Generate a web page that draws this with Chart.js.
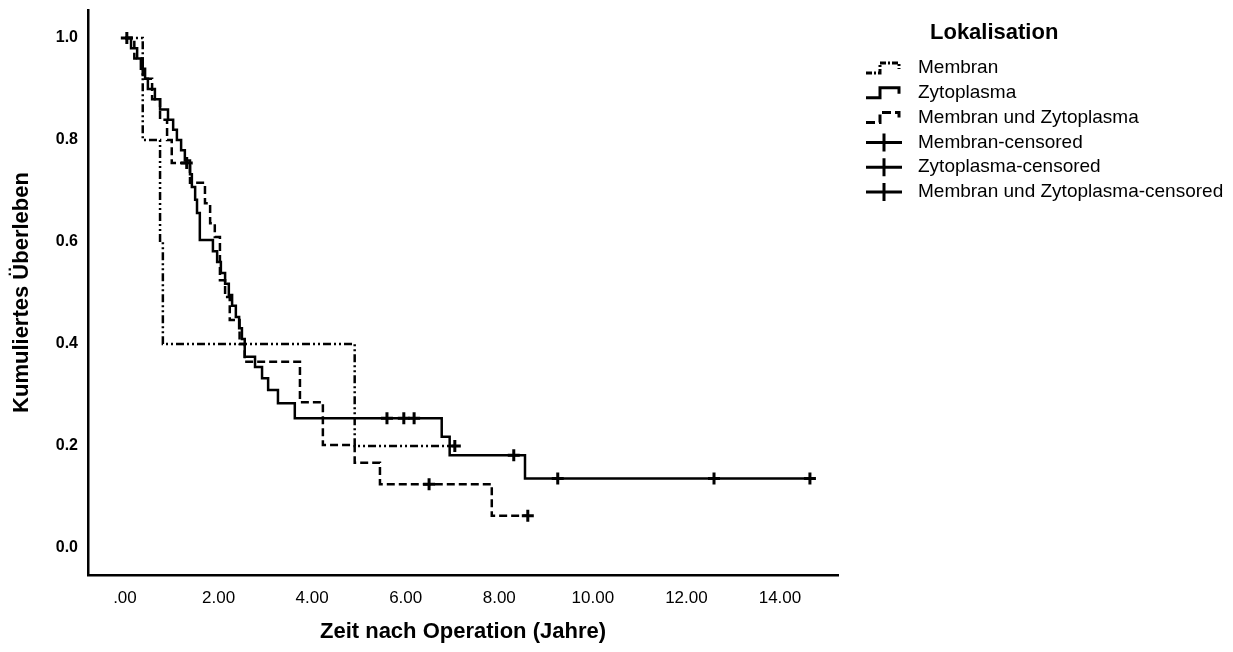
<!DOCTYPE html>
<html><head><meta charset="utf-8">
<script src="https://cdn.jsdelivr.net/npm/chart.js@4/dist/chart.umd.min.js"></script>
<style>html,body{margin:0;padding:0;background:#fff}#wrap{width:1233px;height:652px;position:relative}</style>
</head><body><div id="wrap"><canvas id="c" width="1233" height="652"></canvas></div>
<script>
// ---- data ----
const xTickValues = [0, 2, 4, 6, 8, 10, 12, 14];
const yTickValues = [0, 0.2, 0.4, 0.6, 0.8, 1.0];
const legendTitle = 'Lokalisation';
const seriesNames = ['Membran', 'Zytoplasma', 'Membran und Zytoplasma'];

const membranTimes = [0, 0.38, 0.75, 0.81, 4.91, 7.05];
const membranSurv  = [1, 0.8, 0.6, 0.4, 0.2, 0.2];
const membranCensTimes = [7.05];
const membranCensSurv  = [0.2];

const zytoTimes = [0, 0.13, 0.26, 0.34, 0.43, 0.49, 0.64, 0.75, 0.92, 1.03, 1.11, 1.20, 1.28, 1.39, 1.43, 1.50, 1.54, 1.60, 1.88, 1.97, 2.05, 2.14, 2.22, 2.29, 2.37, 2.44, 2.50, 2.56, 2.78, 2.93, 3.06, 3.27, 3.63, 6.77, 6.94, 8.55, 14.64];
const zytoSurv  = [1, 0.98, 0.96, 0.94, 0.92, 0.90, 0.88, 0.86, 0.84, 0.82, 0.80, 0.78, 0.76, 0.733, 0.708, 0.683, 0.657, 0.604, 0.582, 0.561, 0.539, 0.518, 0.496, 0.475, 0.453, 0.431, 0.410, 0.375, 0.355, 0.333, 0.310, 0.284, 0.2545, 0.218, 0.182, 0.136, 0.136];
const zytoCensTimes = [0.04, 5.60, 5.96, 6.18, 8.31, 9.25, 12.59, 14.64];
const zytoCensSurv  = [1.0, 0.2545, 0.2545, 0.2545, 0.182, 0.136, 0.136, 0.136];

const mzTimes = [0, 0.20, 0.38, 0.58, 0.75, 0.90, 1.00, 1.39, 1.71, 1.82, 1.92, 2.03, 2.14, 2.24, 2.45, 2.56, 3.74, 4.23, 4.91, 5.45, 7.84, 8.61];
const mzSurv  = [1, 0.96, 0.92, 0.88, 0.84, 0.80, 0.755, 0.716, 0.676, 0.637, 0.61, 0.525, 0.492, 0.447, 0.40, 0.365, 0.286, 0.202, 0.167, 0.125, 0.063, 0.063];
const mzCensTimes = [1.32, 6.50, 8.61];
const mzCensSurv  = [0.755, 0.125, 0.063];

// ---- helpers ----
const pts = (t, s) => t.map((v, i) => ({x: v, y: s[i]}));
const FONT = '"Liberation Sans", Arial, sans-serif';
const dashMembran = [8, 3, 2, 3, 2, 3];
const dashMZ = [8, 4];

function lineDs(label, t, s, dash) {
  return {label, data: pts(t, s), stepped: 'before', borderColor: '#000', borderWidth: 2.5,
    borderDash: dash, pointRadius: 0, fill: false, tension: 0};
}
function censDs(label, t, s) {
  return {label, data: pts(t, s), showLine: false, pointStyle: 'cross', pointRadius: 6,
    pointBorderWidth: 3, borderColor: '#000', backgroundColor: '#000', pointHoverRadius: 6};
}

const kmLegend = {
  id: 'kmLegend',
  afterDraw(chart) {
    const ctx = chart.ctx;
    ctx.save();
    ctx.fillStyle = '#000';
    ctx.strokeStyle = '#000';
    ctx.textBaseline = 'middle';
    ctx.font = 'bold 22px ' + FONT;
    ctx.textAlign = 'left';
    ctx.fillText(legendTitle, 930, 33);
    ctx.font = '19px ' + FONT;
    chart.data.datasets.forEach((ds, i) => {
      const y = 68 + i * 24.8;
      ctx.lineWidth = 3;
      ctx.beginPath();
      if (i < 3) {
        ctx.setLineDash(i === 0 ? [6, 2, 2, 2] : (i === 2 ? [9, 4] : []));
        ctx.moveTo(866, y + 5); ctx.lineTo(880, y + 5); ctx.lineTo(880, y - 5);
        ctx.lineTo(899, y - 5); ctx.lineTo(899, y + 1);
      } else {
        ctx.setLineDash([]);
        ctx.moveTo(866, y); ctx.lineTo(902, y);
        ctx.moveTo(884, y - 9); ctx.lineTo(884, y + 9);
      }
      ctx.stroke();
      ctx.setLineDash([]);
      ctx.fillText(ds.label, 918, y);
    });
    ctx.restore();
  }
};

new Chart(document.getElementById('c'), {
  type: 'line',
  data: {
    datasets: [
      lineDs(seriesNames[0], membranTimes, membranSurv, dashMembran),
      lineDs(seriesNames[1], zytoTimes, zytoSurv, []),
      lineDs(seriesNames[2], mzTimes, mzSurv, dashMZ),
      censDs(seriesNames[0] + '-censored', membranCensTimes, membranCensSurv),
      censDs(seriesNames[1] + '-censored', zytoCensTimes, zytoCensSurv),
      censDs(seriesNames[2] + '-censored', mzCensTimes, mzCensSurv)
    ]
  },
  options: {
    responsive: false, animation: false, devicePixelRatio: 1,
    layout: {padding: {left: 0, top: 10, right: 395, bottom: 0}},
    plugins: {legend: {display: false}, tooltip: {enabled: false}},
    scales: {
      x: {
        type: 'linear', min: -0.79, max: 15.24,
        afterBuildTicks: s => { s.ticks = xTickValues.map(v => ({value: v})); },
        afterFit: s => { s.height = 77; s.paddingLeft = 0; s.paddingRight = 0; },
        ticks: {callback: v => (v === 0 ? '.00' : v.toFixed(2)), color: '#000', autoSkip: false, maxRotation: 0,
          font: {family: FONT, size: 17}, padding: 13},
        grid: {display: false, drawTicks: false},
        border: {display: true, color: '#000', width: 2.5},
        title: {display: true, text: 'Zeit nach Operation (Jahre)', color: '#000',
          font: {family: FONT, size: 22, weight: 'bold'}, padding: {top: 0, bottom: 7}}
      },
      y: {
        type: 'linear', min: -0.053, max: 1.055,
        afterBuildTicks: s => { s.ticks = yTickValues.map(v => ({value: v})); },
        afterFit: s => { s.width = 88; s.paddingTop = 0; s.paddingBottom = 0; },
        ticks: {callback: v => v.toFixed(1), color: '#000', font: {family: FONT, size: 16, weight: 'bold'}, padding: 10},
        grid: {display: false, drawTicks: false},
        border: {display: true, color: '#000', width: 2.5},
        title: {display: true, text: 'Kumuliertes Überleben', color: '#000',
          font: {family: FONT, size: 22, weight: 'bold'}, padding: {top: 9, bottom: 0}}
      }
    }
  },
  plugins: [kmLegend]
});
</script></body></html>
